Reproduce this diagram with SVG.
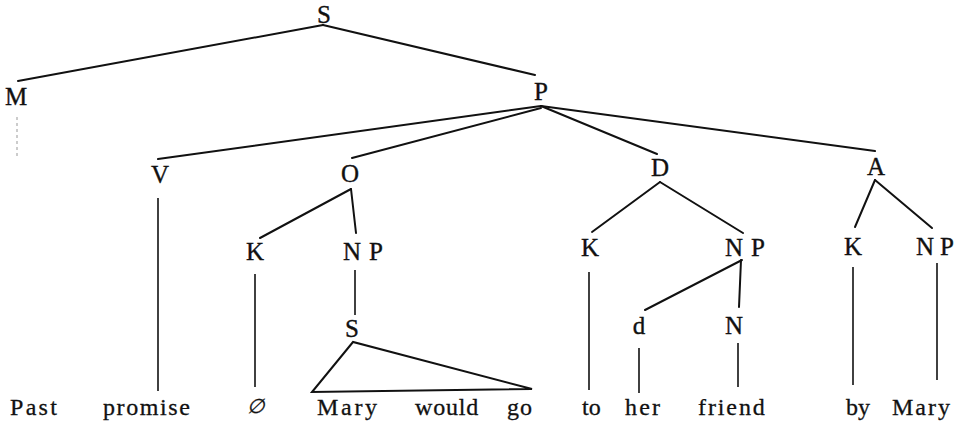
<svg xmlns="http://www.w3.org/2000/svg" width="958" height="427" viewBox="0 0 958 427">
<style>
  .e { stroke: #111; stroke-width: 2; fill: none; stroke-linecap: round; }
  .v { stroke: #111; stroke-width: 1.6; fill: none; }
  .faint { stroke: #999; stroke-width: 1; stroke-dasharray: 3 3; fill: none; }
</style>
<rect width="958" height="427" fill="#fff"/>
<g id="connectors">
  <line class="e" x1="323" y1="25" x2="18" y2="81"/>
  <line class="e" x1="323" y1="25" x2="535" y2="75"/>
  <line class="faint" x1="17" y1="117" x2="17" y2="157"/>
  <line class="e" x1="541" y1="106" x2="158" y2="159"/>
  <line class="e" x1="541" y1="108" x2="352" y2="158"/>
  <line class="e" x1="541" y1="106" x2="657" y2="154"/>
  <line class="e" x1="541" y1="106" x2="875" y2="151"/>
  <line class="v" x1="158" y1="198" x2="158" y2="391"/>
  <line class="e" x1="351" y1="189" x2="260" y2="238"/>
  <line class="e" x1="351" y1="189" x2="356" y2="233"/>
  <line class="v" x1="255" y1="274" x2="255" y2="387"/>
  <line class="v" x1="355" y1="270" x2="355" y2="315"/>
  <polygon class="e" points="353,342 312,392 532,389"/>
  <line class="e" x1="660" y1="182" x2="592" y2="232"/>
  <line class="e" x1="660" y1="182" x2="743" y2="233"/>
  <line class="v" x1="589" y1="272" x2="589" y2="390"/>
  <line class="e" x1="742" y1="260" x2="645" y2="310"/>
  <line class="e" x1="741" y1="260" x2="739" y2="307"/>
  <line class="v" x1="639" y1="348" x2="639" y2="393"/>
  <line class="v" x1="738" y1="343" x2="738" y2="387"/>
  <line class="e" x1="875" y1="180" x2="855" y2="227"/>
  <line class="e" x1="875" y1="180" x2="932" y2="228"/>
  <line class="v" x1="853" y1="267" x2="853" y2="385"/>
  <line class="v" x1="937" y1="263" x2="937" y2="380"/>
</g>
<g font-family="Liberation Serif, Times New Roman, serif" font-size="25" fill="#111" stroke="#111" stroke-width="0.35">
<g id="n-S"><text x="324" y="23" text-anchor="middle">S</text></g>
<g id="n-M"><text x="16" y="105" text-anchor="middle">M</text></g>
<g id="n-P"><text x="541" y="100" text-anchor="middle">P</text></g>
<g id="n-V"><text x="160" y="183" text-anchor="middle">V</text></g>
<g id="n-O"><text x="350" y="182" text-anchor="middle">O</text></g>
<g id="n-D"><text x="660" y="176" text-anchor="middle">D</text></g>
<g id="n-A"><text x="876" y="175" text-anchor="middle">A</text></g>
<g id="n-K1"><text x="255" y="260" text-anchor="middle">K</text></g>
<g id="n-NP1"><text x="343" y="260">N<tspan dx="8">P</tspan></text></g>
<g id="n-S2"><text x="352" y="337" text-anchor="middle">S</text></g>
<g id="n-K2"><text x="590" y="256" text-anchor="middle">K</text></g>
<g id="n-NP2"><text x="725" y="256">N<tspan dx="8">P</tspan></text></g>
<g id="n-d"><text x="639" y="334" text-anchor="middle">d</text></g>
<g id="n-N"><text x="734" y="334" text-anchor="middle">N</text></g>
<g id="n-K3"><text x="853" y="255" text-anchor="middle">K</text></g>
<g id="n-NP3"><text x="916" y="255">N<tspan dx="6">P</tspan></text></g>
</g>
<g id="words" font-family="Liberation Serif, Times New Roman, serif" font-size="24" fill="#111" stroke="#111" stroke-width="0.3">
  <text x="10" y="415" letter-spacing="2.3">Past</text>
  <text x="103" y="415" letter-spacing="1.6">promise</text>
  <text x="247" y="413" font-family="DejaVu Serif, serif" font-size="20" font-style="italic">∅</text>
  <text x="317" y="415" letter-spacing="2.7">Mary</text>
  <text x="415" y="415" letter-spacing="0.8">would</text>
  <text x="507" y="415" letter-spacing="1">go</text>
  <text x="582" y="415">to</text>
  <text x="625" y="415" letter-spacing="2.2">her</text>
  <text x="698" y="415" letter-spacing="1.9">friend</text>
  <text x="846" y="415">by</text>
  <text x="892" y="415" letter-spacing="2">Mary</text>
</g>
</svg>
